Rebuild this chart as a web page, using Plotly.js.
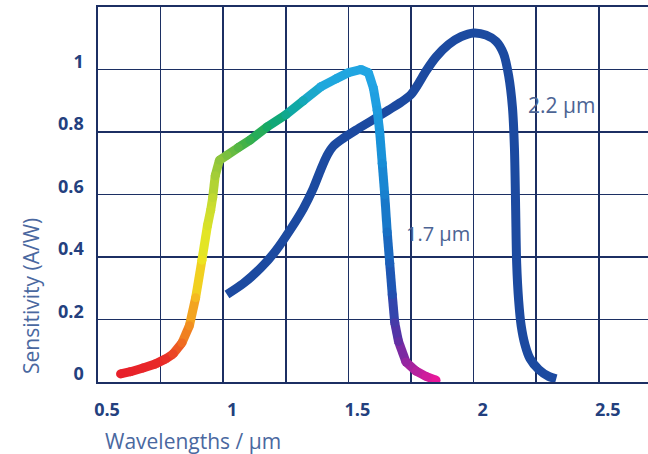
<!DOCTYPE html>
<html>
<head>
<meta charset="utf-8">
<script src="https://cdn.plot.ly/plotly-3.0.1.min.js"></script>
<style>html,body{margin:0;padding:0;background:#fff;}#chart{width:648px;height:454px;}</style>
</head>
<body>
<div id="chart"></div>
<script>
// 1.7 µm detector curve (rainbow coloured)
var shortX = [0.59,0.63,0.68,0.73,0.77,0.80,0.835,0.865,0.89,0.915,0.937,0.950,0.958,0.968,0.985,1.015,1.06,1.107,1.175,1.25,1.32,1.39,1.45,1.50,1.55,1.58,1.60,1.615,1.625,1.635,1.645,1.655,1.665,1.675,1.685,1.70,1.73,1.77,1.81,1.85];
var shortY = [0.026,0.033,0.045,0.058,0.074,0.09,0.125,0.18,0.27,0.39,0.50,0.55,0.59,0.66,0.71,0.726,0.75,0.774,0.816,0.855,0.90,0.945,0.97,0.99,1.0,0.99,0.94,0.87,0.80,0.70,0.60,0.48,0.38,0.28,0.19,0.13,0.064,0.035,0.018,0.006];
// 2.2 µm detector curve
var longX = [1.015,1.08,1.15,1.21,1.27,1.32,1.36,1.39,1.415,1.44,1.48,1.53,1.60,1.66,1.71,1.75,1.78,1.81,1.85,1.90,1.95,2.0,2.05,2.09,2.12,2.14,2.155,2.163,2.168,2.172,2.18,2.19,2.205,2.225,2.26,2.30,2.33];
var longY = [0.28,0.315,0.365,0.42,0.49,0.555,0.62,0.68,0.725,0.755,0.78,0.806,0.84,0.87,0.895,0.92,0.955,0.995,1.04,1.08,1.105,1.117,1.11,1.09,1.05,0.98,0.88,0.75,0.55,0.38,0.26,0.18,0.12,0.075,0.04,0.018,0.01];
var xTickVals = [0.5,0.75,1,1.25,1.5,1.75,2,2.25,2.5];
var xTickText = ['0.5','','1','','1.5','','2','','2.5'];
var yTickVals = [0,0.2,0.4,0.6,0.8,1,1.2];
var yTickText = ['0','0.2','0.4','0.6','0.8','1',''];
var labelShort = '1.7 µm', labelLong = '2.2 µm';

var stops = [[0,'#e8202a'],[0.06,'#e82a28'],[0.10,'#f07a20'],[0.16,'#f5c020'],[0.21,'#ece820'],[0.28,'#c8dc30'],[0.34,'#8cc43c'],[0.38,'#3cb048'],[0.42,'#10a86a'],[0.46,'#10a8a8'],[0.50,'#1ea8dc'],[0.58,'#22a4e4'],[0.68,'#1890d8'],[0.78,'#1870c4'],[0.86,'#2050b0'],[0.92,'#5a30a4'],[1,'#e8189a']];
function hex2rgb(h){return [parseInt(h.substr(1,2),16),parseInt(h.substr(3,2),16),parseInt(h.substr(5,2),16)];}
function colorAt(t){
  for(var i=0;i<stops.length-1;i++){
    if(t<=stops[i+1][0]){
      var a=hex2rgb(stops[i][1]), b=hex2rgb(stops[i+1][1]);
      var f=(t-stops[i][0])/(stops[i+1][0]-stops[i][0]);
      return 'rgb('+[0,1,2].map(function(k){return Math.round(a[k]+(b[k]-a[k])*f);}).join(',')+')';
    }
  }
  return stops[stops.length-1][1];
}
// arc-length fraction in approximate pixel space
var xs=250.4, ys=312.5, cum=[0];
for(var i=1;i<shortX.length;i++){
  var dx=(shortX[i]-shortX[i-1])*xs, dy=(shortY[i]-shortY[i-1])*ys;
  cum.push(cum[i-1]+Math.sqrt(dx*dx+dy*dy));
}
var total=cum[cum.length-1];
var traces=[];
traces.push({x:longX,y:longY,mode:'lines',line:{color:'#1c4aa0',width:9,shape:'spline',smoothing:0.8},hoverinfo:'skip',showlegend:false});
var ptColors=[];
for(var i=0;i<shortX.length;i++){ptColors.push(colorAt(cum[i]/total));}
for(var i=0;i<shortX.length-1;i++){
  traces.push({x:[shortX[i],shortX[i+1]],y:[shortY[i],shortY[i+1]],mode:'lines',line:{color:colorAt((cum[i]+cum[i+1])/2/total),width:9},hoverinfo:'skip',showlegend:false});
}
traces.push({x:shortX,y:shortY,mode:'markers',marker:{color:ptColors,size:9,line:{width:0}},hoverinfo:'skip',showlegend:false});

var gridC='#1c2f63';
var layout={
  width:648,height:454,
  margin:{l:98,r:0,t:7,b:72},
  paper_bgcolor:'#fff',plot_bgcolor:'#fff',
  showlegend:false,
  xaxis:{range:[0.5,0.5+550/250.4],tickvals:xTickVals,ticktext:xTickText,showgrid:true,gridcolor:gridC,gridwidth:1.6,
    zeroline:false,showline:true,linecolor:gridC,linewidth:1.6,mirror:true,ticks:'',
    tickfont:{family:'Open Sans',size:18,color:'#23407e',weight:700},ticklabelstandoff:11,ticklabelshift:9},
  yaxis:{range:[0,1.2],tickvals:yTickVals,ticktext:yTickText,showgrid:true,gridcolor:gridC,gridwidth:1.6,
    zeroline:false,showline:true,linecolor:gridC,linewidth:1.6,ticks:'',
    tickfont:{family:'Open Sans',size:18,color:'#23407e',weight:700},ticklabelstandoff:9,ticklabelshift:-8},
  annotations:[
    {text:'Wavelengths / µm',xref:'paper',yref:'paper',x:0.173,y:-0.157,showarrow:false,xanchor:'center',yanchor:'middle',font:{family:'Open Sans',size:21,color:'#4a68a0'}},
    {text:'Sensitivity (A/W)',xref:'paper',yref:'paper',x:-0.122,y:0.229,showarrow:false,textangle:-90,xanchor:'center',yanchor:'middle',font:{family:'Open Sans',size:21,color:'#4a68a0'}},
    {text:labelLong,x:2.21,y:0.886,showarrow:false,xanchor:'left',yanchor:'middle',font:{family:'Open Sans',size:21,color:'#4c6494'}},
    {text:labelShort,x:1.722,y:0.476,showarrow:false,xanchor:'left',yanchor:'middle',font:{family:'Open Sans',size:20,color:'#4c6494'}}
  ]
};
Plotly.newPlot('chart',traces,layout,{displayModeBar:false,staticPlot:true});
</script>
</body>
</html>
